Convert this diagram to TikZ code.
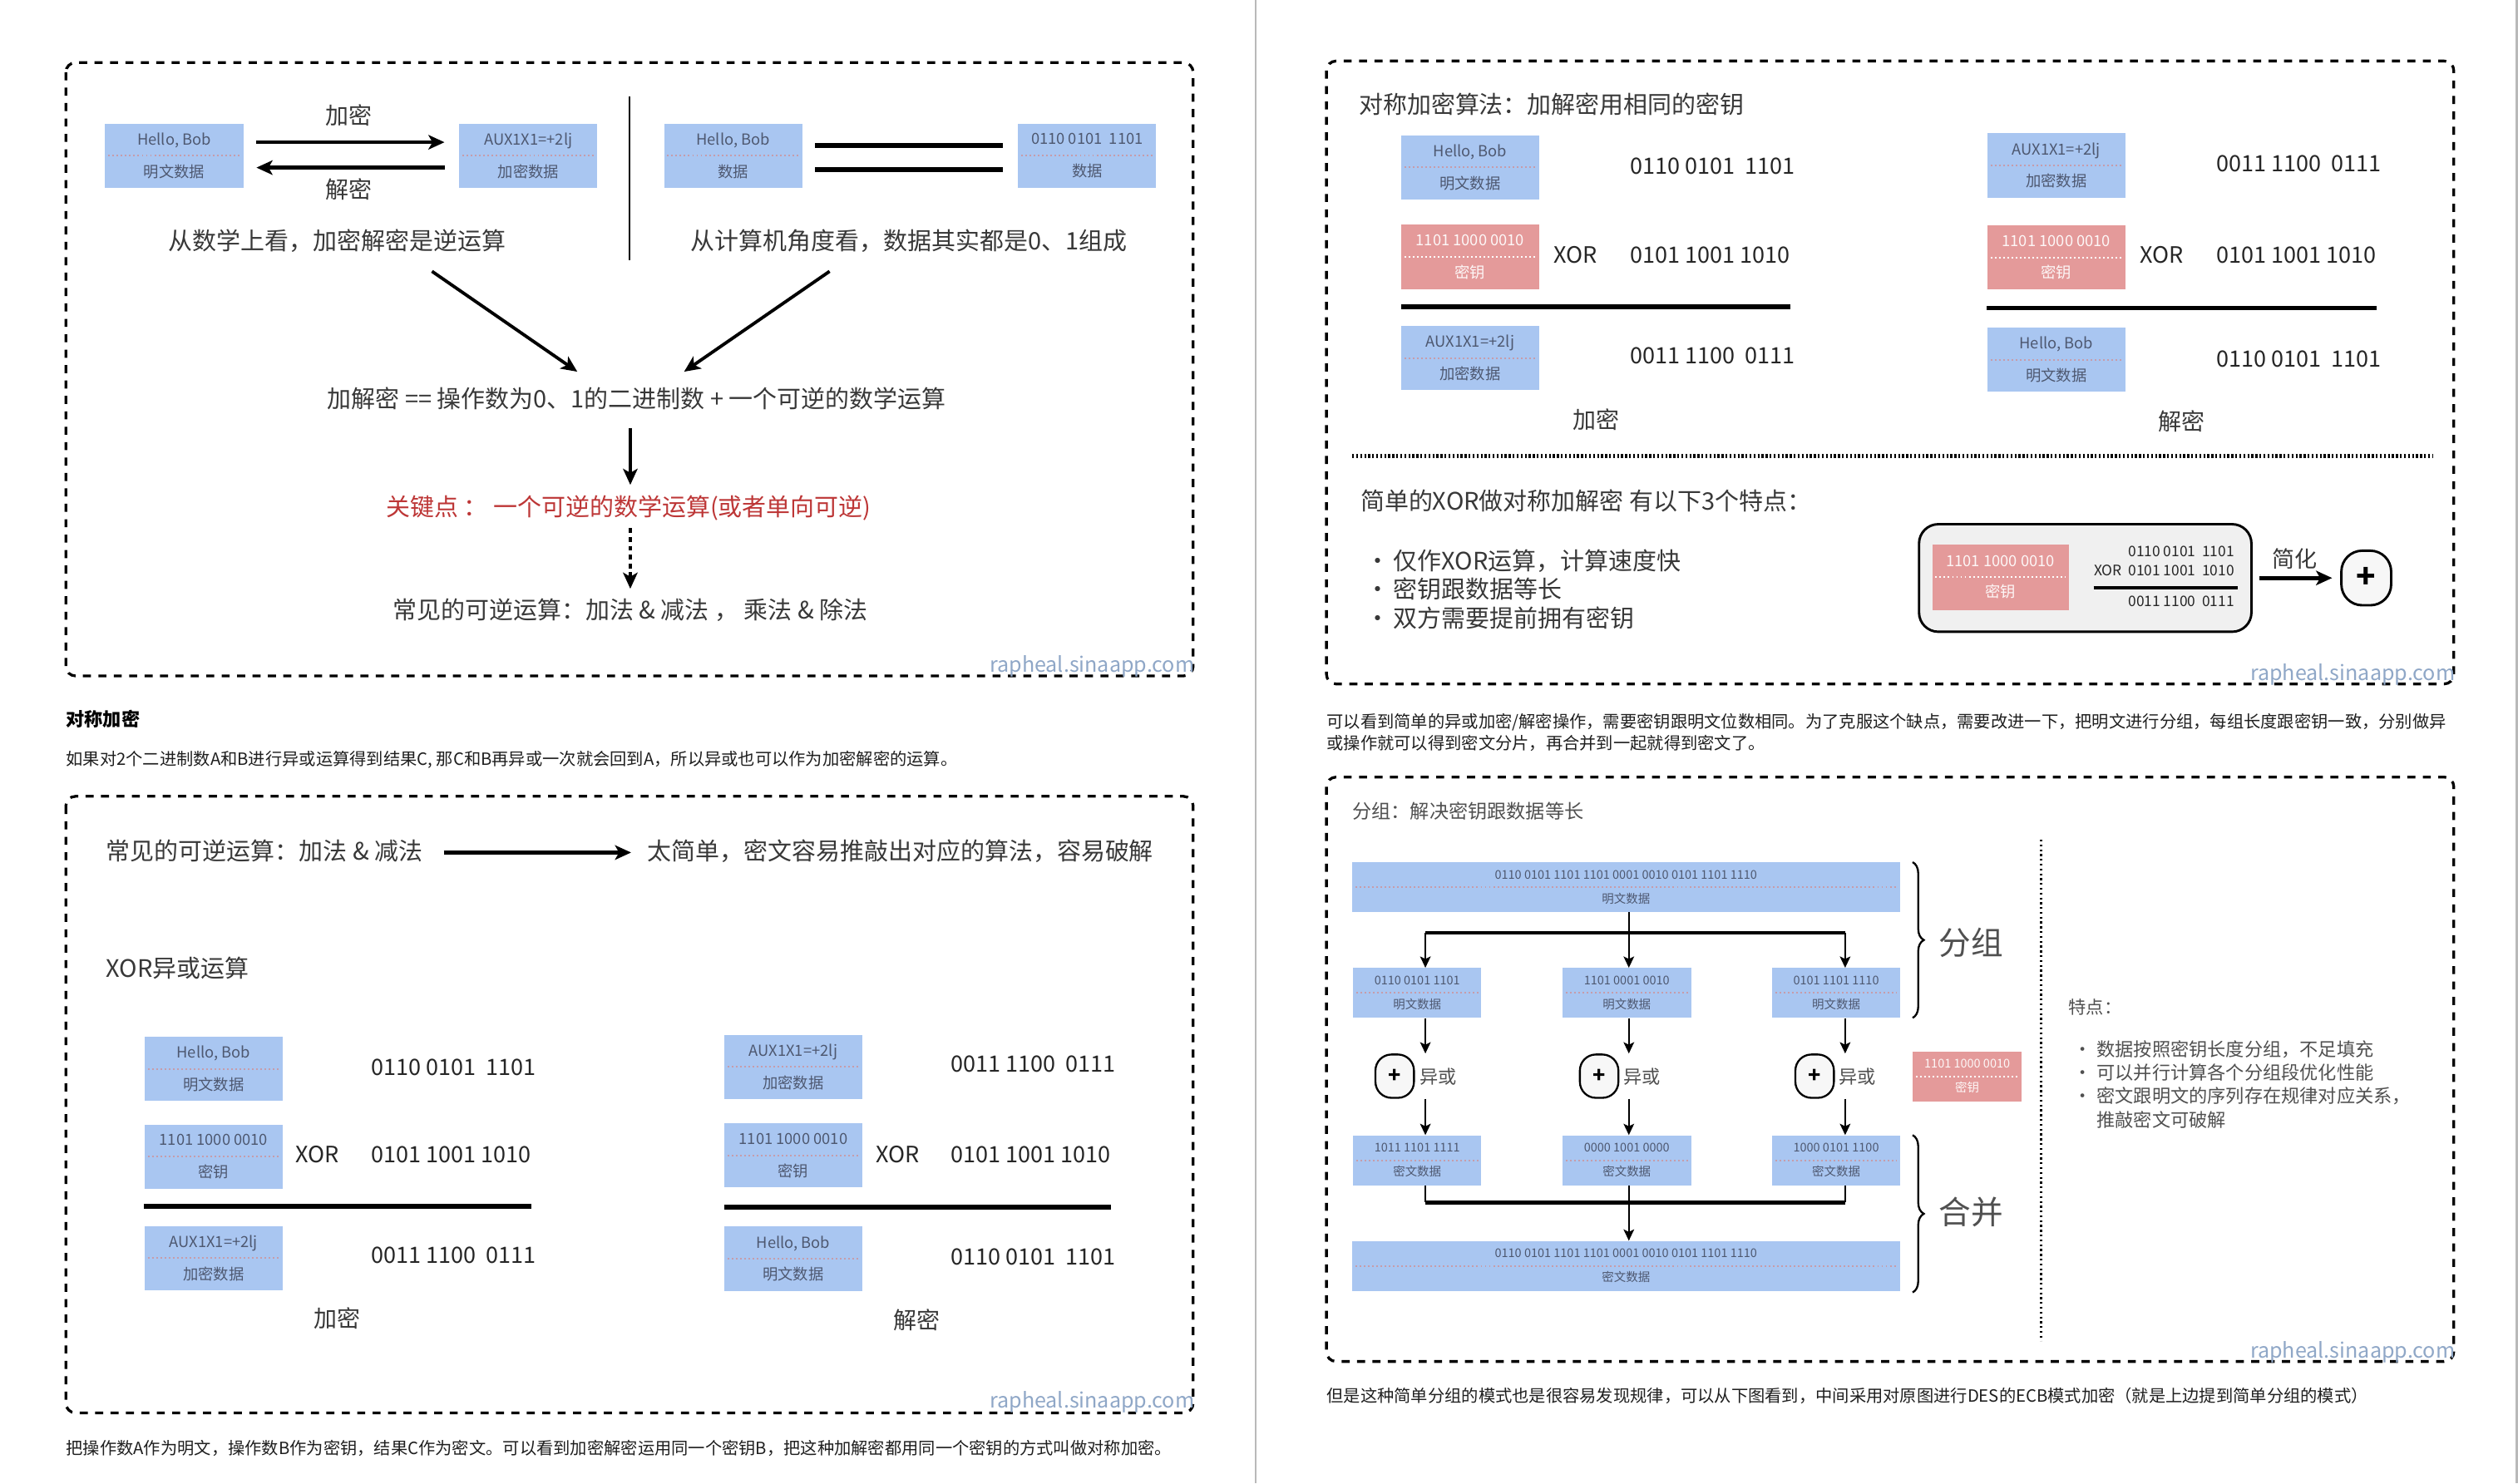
\documentclass[tikz,border=0pt]{standalone}
\usepackage{fontspec}
\setmainfont{Noto Sans CJK SC}
\usetikzlibrary{arrows.meta,decorations.pathreplacing}
\definecolor{boxblue}{HTML}{A9C6F1}
\definecolor{keyred}{HTML}{E49A9A}
\definecolor{maintxt}{HTML}{383838}
\definecolor{boxtxt}{HTML}{4E5870}
\definecolor{boxdot}{HTML}{C69CAA}
\definecolor{wmark}{HTML}{8FA7C7}
\definecolor{keyword}{HTML}{BD3636}
\definecolor{softgray}{HTML}{505050}
\newcommand{\myfs}[2]{\fontsize{#1}{#2}\selectfont}
\newcommand{\bul}{\makebox[19pt][c]{·}}
\newcommand{\bulsm}{\makebox[17pt][c]{·}}
\tikzset{
  panel/.style={draw=black, line width=1.7pt, dash pattern=on 5pt off 4.6pt, rounded corners=6pt},
  dbox/.style n args={3}{inner sep=0pt, align=center, fill=#1, text=#3, minimum width=86pt, minimum height=40pt, font=\myfs{9.5}{20},
     path picture={\draw[draw=#2, line width=1.1pt, dash pattern=on 1pt off 1.6pt] ([xshift=2pt]path picture bounding box.west) -- ([xshift=-2pt]path picture bounding box.east);}},
  plainbox/.style={dbox={boxblue}{boxdot}{boxtxt}},
  keybox/.style={dbox={keyred}{white}{white!92!keyred}},
  smallbox/.style={minimum width=80pt, minimum height=31pt, font=\myfs{7.5}{15}},
  longbox/.style={minimum width=341pt, minimum height=31pt, font=\myfs{7.5}{15}},
  maintext/.style={inner sep=0pt, text=maintxt, font=\myfs{15}{18}},
  numtext/.style={inner sep=0pt, text=black!85, font=\myfs{14}{16}, anchor=west},
  xortext/.style={inner sep=0pt, text=black!85, font=\myfs{14}{16}},
  para/.style={inner sep=0pt, anchor=west, text=black!88, font=\myfs{10.5}{13}},
  wm/.style={inner sep=0pt, anchor=east, text=wmark, font=\myfs{13}{14}},
  dtext/.style={inner sep=0pt, text=softgray},
  bigarr/.style={line width=2.4pt, -{Stealth[length=10pt,width=9pt,inset=2.5pt]}},
  medarr/.style={line width=1.3pt, -{Stealth[length=7pt,width=6.5pt,inset=1.5pt]}},
  resline/.style={line width=3pt},
  xorc/.style={draw, line width=1.2pt, fill=gray!6, rounded corners=10pt, minimum width=24pt, minimum height=27pt, inner sep=0pt, font=\myfs{13}{13}\bfseries},
}
\begin{document}
\begin{tikzpicture}[x=1pt,y=-1pt]
\useasboundingbox (0,0) rectangle (1568,924);
\fill[white] (0,0) rectangle (1568,924);
% page separators
\draw[gray!55, line width=1pt] (782,0) -- (782,924);
\draw[gray!55, line width=1.5pt] (1567,0) -- (1567,924);

% ================= Panel A
\draw[panel] (41,39) rectangle (743,421);
\node[plainbox] (a1) at (108.5,97) {Hello, Bob\\明文数据};
\node[plainbox] (a2) at (329,97) {AUX1X1=+2lj\\加密数据};
\node[plainbox] (a3) at (456.5,97) {Hello, Bob\\数据};
\node[plainbox] (a4) at (677,97) {0110 0101\ \ 1101\\数据};
\draw[bigarr] ([xshift=8pt,yshift=8.4pt]a1.east) -- ([xshift=-9pt,yshift=8.4pt]a2.west);
\draw[bigarr] ([xshift=-9pt,yshift=-7.4pt]a2.west) -- ([xshift=8pt,yshift=-7.4pt]a1.east);
\node[maintext, font=\myfs{14.5}{16}] (encL) at (217,72) {加密};
\node[maintext, font=\myfs{14.5}{16}] (decL) at (217,118) {解密};
\coordinate (vt) at (392,60);
\coordinate (vb) at (392,162);
\draw[line width=1pt] (vt) -- (vb);
\draw[line width=3pt] ([xshift=8pt,yshift=6.4pt]a3.east) -- ([xshift=-9.5pt,yshift=6.4pt]a4.west);
\draw[line width=3pt] ([xshift=8pt,yshift=-8.8pt]a3.east) -- ([xshift=-9.5pt,yshift=-8.8pt]a4.west);
\node[maintext] (t1) at (210,150) {从数学上看，加密解密是逆运算};
\node[maintext] (t2) at (566,150) {从计算机角度看，数据其实都是0、1组成};
\node[maintext] (t3) at (396.5,248.5) {加解密 == 操作数为0、1的二进制数 + 一个可逆的数学运算};
\node[maintext, text=keyword] (t4) at (391.5,316.5) {关键点 ： 一个可逆的数学运算(或者单向可逆)};
\node[maintext] (t5) at (392.5,380) {常见的可逆运算：加法 \& 减法 ， 乘法 \& 除法};
\draw[bigarr, line width=2pt] ([xshift=59pt,yshift=-19pt]t1.center) -- ([xshift=-37pt,yshift=17pt]t3.center);
\draw[bigarr, line width=2pt] ([xshift=-49.4pt,yshift=-19pt]t2.center) -- ([xshift=29.5pt,yshift=17pt]t3.center);
\draw[bigarr, line width=2pt] ([xshift=-4pt,yshift=-18pt]t3.center) -- ([xshift=1pt,yshift=14.5pt]t4.center);
\draw[bigarr, line width=2pt, dash pattern=on 3pt off 2.5pt] ([xshift=1pt,yshift=-12.5pt]t4.center) -- ([yshift=13.3pt]t5.center);
\node[wm] (wmA) at (744,415) {rapheal.sinaapp.com};

% text under A
\node[para, font=\myfs{11.5}{13}\bfseries, text=black] (pHead) at (41,448) {对称加密};
\node[para] (pA) at (41,473) {如果对2个二进制数A和B进行异或运算得到结果C, 那C和B再异或一次就会回到A，所以异或也可以作为加密解密的运算。};

% ================= Panel B
\draw[panel] (41,496) rectangle (743,880);
\node[maintext, anchor=west] (bH1) at (66,530) {常见的可逆运算：加法 \& 减法};
\node[maintext, anchor=west] (bH2) at (403,530) {太简单，密文容易推敲出对应的算法，容易破解};
\draw[bigarr, line width=3pt] ([xshift=13pt,yshift=-1pt]bH1.east) -- ([xshift=-10pt,yshift=-1pt]bH2.west);
\node[maintext, anchor=west] (bH3) at (66,603) {XOR异或运算};
% left column
\node[plainbox] (bL1) at (133,665.7) {Hello, Bob\\明文数据};
\node[plainbox] (bL2) at (133,720.5) {1101 1000 0010\\密钥};
\node[plainbox] (bL3) at (133,783.6) {AUX1X1=+2lj\\加密数据};
\node[numtext] (bLn1) at (231,664.8) {0110 0101\ \ 1101};
\node[numtext] (bLn2) at (231,719.3) {0101 1001 1010};
\node[numtext] (bLn3) at (231,781.8) {0011 1100\ \ 0111};
\node[xortext] (bLx) at (197.5,719.3) {XOR};
\draw[resline] ([yshift=-10.6pt]bL2.south west) -- ([yshift=-10.6pt]bL2.south west -| bLn2.east);
\node[maintext, font=\myfs{14.5}{16}] (bLc) at (210,821) {加密};
% right column
\node[plainbox] (bR1) at (494,664.5) {AUX1X1=+2lj\\加密数据};
\node[plainbox] (bR2) at (494,719.7) {1101 1000 0010\\密钥};
\node[plainbox] (bR3) at (494,784) {Hello, Bob\\明文数据};
\node[numtext] (bRn1) at (592,663) {0011 1100\ \ 0111};
\node[numtext] (bRn2) at (592,719.3) {0101 1001 1010};
\node[numtext] (bRn3) at (592,782.7) {0110 0101\ \ 1101};
\node[xortext] (bRx) at (559,719.3) {XOR};
\draw[resline] ([yshift=-12pt]bR2.south west) -- ([yshift=-12pt]bR2.south west -| bRn2.east);
\node[maintext, font=\myfs{14.5}{16}] (bRc) at (571,822) {解密};
\node[wm] (wmB) at (744,873) {rapheal.sinaapp.com};

% text under B
\node[para] (pB) at (41,902) {把操作数A作为明文，操作数B作为密钥，结果C作为密文。可以看到加密解密运用同一个密钥B，把这种加解密都用同一个密钥的方式叫做对称加密。};

% ================= Panel C
\draw[panel] (826,38) rectangle (1528,426);
\node[maintext, anchor=west] (cT) at (846,64.7) {对称加密算法：加解密用相同的密钥};
\node[plainbox] (cL1) at (915.5,104.3) {Hello, Bob\\明文数据};
\node[keybox] (cL2) at (915.5,160) {1101 1000 0010\\密钥};
\node[plainbox] (cL3) at (915.5,223) {AUX1X1=+2lj\\加密数据};
\node[numtext] (cLn1) at (1015,103.6) {0110 0101\ \ 1101};
\node[numtext] (cLn2) at (1015,159) {0101 1001 1010};
\node[numtext] (cLn3) at (1015,221.8) {0011 1100\ \ 0111};
\node[xortext] (cLx) at (981,159) {XOR};
\draw[resline] ([yshift=-10.8pt]cL2.south west) -- ([yshift=-10.8pt]cL2.south west -| cLn2.east);
\node[maintext, font=\myfs{14.5}{16}] (cLc) at (994,261.5) {加密};
\node[plainbox] (cR1) at (1280.5,103) {AUX1X1=+2lj\\加密数据};
\node[keybox] (cR2) at (1280.5,160.3) {1101 1000 0010\\密钥};
\node[plainbox] (cR3) at (1280.5,224) {Hello, Bob\\明文数据};
\node[numtext] (cRn1) at (1380,102) {0011 1100\ \ 0111};
\node[numtext] (cRn2) at (1380,159) {0101 1001 1010};
\node[numtext] (cRn3) at (1380,223.6) {0110 0101\ \ 1101};
\node[xortext] (cRx) at (1346,159) {XOR};
\draw[resline] ([yshift=-11.3pt]cR2.south west) -- ([yshift=-11.3pt]cR2.south west -| cRn2.east);
\node[maintext, font=\myfs{14.5}{16}] (cRc) at (1358.5,262.5) {解密};
\coordinate (sepL) at (842,284);
\coordinate (sepR) at (1515,284);
\draw[line width=2.2pt, dash pattern=on 1.2pt off 1.3pt] (sepL) -- (sepR);
\node[maintext, anchor=west] (cH) at (847,312) {简单的XOR做对称加解密 有以下3个特点：};
\node[maintext, anchor=west] (cB1) at (848.5,349.6) {\bul 仅作XOR运算，计算速度快};
\node[maintext, anchor=west] (cB2) at (848.5,366.8) {\bul 密钥跟数据等长};
\node[maintext, anchor=west] (cB3) at (848.5,384.9) {\bul 双方需要提前拥有密钥};
\node[draw, line width=1.5pt, fill=gray!12, rounded corners=12pt, minimum width=207pt, minimum height=67pt] (simp) at (1298.5,360) {};
\node[keybox, minimum width=85pt, minimum height=41pt, font=\myfs{9.5}{19}] (sKey) at (1245.7,359.5) {1101 1000 0010\\密钥};
\node[inner sep=0pt, anchor=east, font=\myfs{9}{10}, text=black!85] (sN1) at (1391.5,343.5) {0110 0101\ \ 1101};
\node[inner sep=0pt, anchor=east, font=\myfs{9}{10}, text=black!85] (sN2) at (1391.5,355.5) {XOR\ \ 0101 1001\ \ 1010};
\node[inner sep=0pt, anchor=east, font=\myfs{9}{10}, text=black!85] (sN3) at (1391.5,374.6) {0011 1100\ \ 0111};
\draw[line width=2pt] ([yshift=-10.5pt]sN2.west) -- ([yshift=-10.5pt,xshift=2pt]sN2.east);
\node[draw, line width=1.5pt, fill=gray!6, rounded corners=13pt, minimum width=31pt, minimum height=34pt, inner sep=0pt, font=\myfs{20}{20}\bfseries] (plus) at (1473.5,360) {+};
\draw[bigarr] ([xshift=4pt]simp.east) -- ([xshift=-5pt]plus.west);
\node[maintext, font=\myfs{14}{16}] (lblS) at (1429,348) {简化};
\node[wm] (wmC) at (1529,420) {rapheal.sinaapp.com};

% text under C
\node[para] (pC1) at (826,449.6) {可以看到简单的异或加密/解密操作，需要密钥跟明文位数相同。为了克服这个缺点，需要改进一下，把明文进行分组，每组长度跟密钥一致，分别做异};
\node[para] (pC2) at (826,463) {或操作就可以得到密文分片，再合并到一起就得到密文了。};

% ================= Panel D
\draw[panel] (826,484) rectangle (1528,848);
\node[dtext, anchor=west, font=\myfs{12}{14}] (dT) at (842,505) {分组：解决密钥跟数据等长};
\node[plainbox, longbox] (D1) at (1012.5,552.5) {0110 0101 1101 1101 0001 0010 0101 1101 1110\\明文数据};
\node[plainbox, smallbox] (g1) at (882.5,618.5) {0110 0101 1101\\明文数据};
\node[plainbox, smallbox] (g2) at (1013,618.5) {1101 0001 0010\\明文数据};
\node[plainbox, smallbox] (g3) at (1143.4,618.5) {0101 1101 1110\\明文数据};
\coordinate (k1) at (887.6,581);
\coordinate (k2) at (1014.3,581);
\coordinate (k3) at (1149,581);
\draw[line width=1.3pt] (D1.south -| k2) -- (k2);
\draw[line width=2.2pt] (k1) -- (k3);
\draw[medarr] (k1) -- (g1.north -| k1);
\draw[medarr] (k2) -- (g2.north -| k2);
\draw[medarr] (k3) -- (g3.north -| k3);
\node[xorc] (x1) at (868.5,670.3) {+};
\node[xorc] (x2) at (995.8,670.3) {+};
\node[xorc] (x3) at (1130,670.3) {+};
\node[dtext, anchor=west, font=\myfs{11.5}{12}] (xl1) at (884,670.5) {异或};
\node[dtext, anchor=west, font=\myfs{11.5}{12}] (xl2) at (1011,670.5) {异或};
\node[dtext, anchor=west, font=\myfs{11.5}{12}] (xl3) at (1145,670.5) {异或};
\draw[medarr] (g1.south -| k1) -- (x1.north -| k1);
\draw[medarr] (g2.south -| k2) -- (x2.north -| k2);
\draw[medarr] (g3.south -| k3) -- (x3.north -| k3);
\node[keybox, minimum width=68pt, minimum height=31pt, font=\myfs{7.5}{15}] (dKey) at (1225,670.5) {1101 1000 0010\\密钥};
\node[plainbox, smallbox] (e1) at (882.5,722.7) {1011 1101 1111\\密文数据};
\node[plainbox, smallbox] (e2) at (1013,722.7) {0000 1001 0000\\密文数据};
\node[plainbox, smallbox] (e3) at (1143.4,722.7) {1000 0101 1100\\密文数据};
\draw[medarr] (x1.south -| k1) -- (e1.north -| k1);
\draw[medarr] (x2.south -| k2) -- (e2.north -| k2);
\draw[medarr] (x3.south -| k3) -- (e3.north -| k3);
\node[plainbox, longbox] (E) at (1012.5,788.5) {0110 0101 1101 1101 0001 0010 0101 1101 1110\\密文数据};
\coordinate (m) at (1014.3,749);
\draw[line width=1.3pt] (e1.south -| k1) -- (m -| k1);
\draw[line width=1.3pt] (e3.south -| k3) -- (m -| k3);
\draw[line width=1.3pt] (e2.south -| k2) -- (m);
\draw[line width=2.2pt] (m -| k1) -- (m -| k3);
\draw[medarr] (m) -- (E.north -| m);
\coordinate (br1a) at (1191,537);
\coordinate (br1b) at (1191,634);
\coordinate (br2a) at (1191,707);
\coordinate (br2b) at (1191,805);
\draw[line width=1.2pt, decorate, decoration={brace, amplitude=7pt}] (br1a) -- (br1b);
\draw[line width=1.2pt, decorate, decoration={brace, amplitude=7pt}] (br2a) -- (br2b);
\node[dtext, font=\myfs{20}{22}] (lblG) at (1227.5,587) {分组};
\node[dtext, font=\myfs{20}{22}] (lblM) at (1227.5,755) {合并};
\coordinate (dvt) at (1271,523);
\coordinate (dvb) at (1271,835);
\draw[line width=1.5pt, dash pattern=on 1.2pt off 1.8pt] (dvt) -- (dvb);
\node[dtext, anchor=west, font=\myfs{11}{12}] (dF) at (1288,627.5) {特点：};
\node[dtext, anchor=west, font=\myfs{11.5}{12}] (dB1) at (1288.5,653.4) {\bulsm 数据按照密钥长度分组，不足填充};
\node[dtext, anchor=west, font=\myfs{11.5}{12}] (dB2) at (1288.5,668) {\bulsm 可以并行计算各个分组段优化性能};
\node[dtext, anchor=west, font=\myfs{11.5}{12}] (dB3) at (1288.5,682.6) {\bulsm 密文跟明文的序列存在规律对应关系，};
\node[dtext, anchor=west, font=\myfs{11.5}{12}] (dB4) at (1288.5,697.4) {\hspace*{17pt}推敲密文可破解};
\node[wm] (wmD) at (1529,842) {rapheal.sinaapp.com};

% text under D
\node[para] (pD) at (826,869.5) {但是这种简单分组的模式也是很容易发现规律，可以从下图看到，中间采用对原图进行DES的ECB模式加密（就是上边提到简单分组的模式）};
\end{tikzpicture}
\end{document}
